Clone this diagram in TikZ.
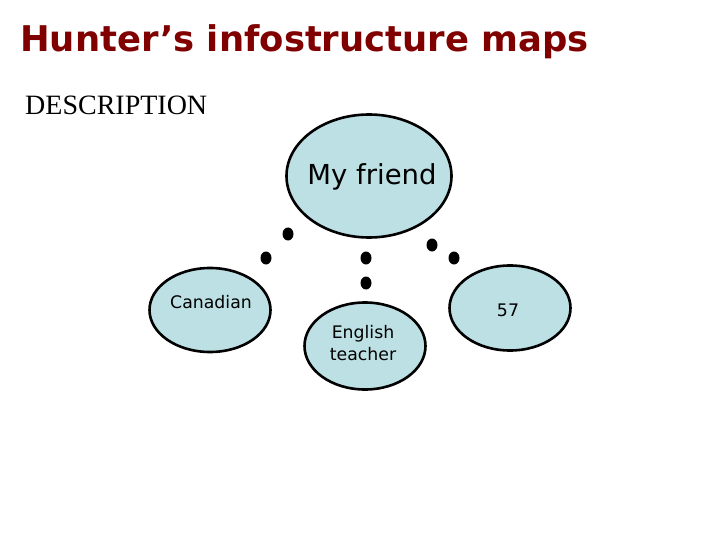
\documentclass[tikz,border=0pt]{standalone}
\usepackage{fontspec}
\setmainfont{Liberation Serif}
\newfontfamily\verd{DejaVu Sans}
\usetikzlibrary{shapes.geometric}
\definecolor{titlered}{RGB}{128,0,0}
\definecolor{bubble}{RGB}{188,224,227}
\tikzset{
  bubblebox/.style={ellipse, draw=black, line width=2.6pt, fill=bubble, inner sep=0pt},
  dotnode/.style={ellipse, fill=black, minimum width=11pt, minimum height=13pt, inner sep=0pt},
  smalltext/.style={font=\verd\fontsize{17.3}{22}\selectfont, align=center},
}
\begin{document}
\begin{tikzpicture}[x=1pt,y=-1pt]
\useasboundingbox[fill=white] (0,0) rectangle (720,540);
\node[anchor=base west, inner sep=0pt, text=titlered, font=\verd\bfseries\fontsize{35.4}{40}\selectfont] (title) at (20,52) {Hunter’s infostructure maps};
\node[anchor=base west, inner sep=0pt, font=\fontsize{28}{32}\selectfont] (desc) at (25,115) {DESCRIPTION};

\node[bubblebox, minimum width=165pt, minimum height=123pt] (friend) at (369,176) {};
\node[font=\verd\fontsize{27.5}{32}\selectfont, inner sep=0pt] (friendtxt) at (372,177) {My friend};

\node[bubblebox, minimum width=121pt, minimum height=84pt] (can) at (210,310) {};
\node[smalltext, anchor=base, inner sep=0pt] (cantxt) at (211,308) {Canadian};

\node[bubblebox, minimum width=121pt, minimum height=87pt] (eng) at (365,346) {};
\node[smalltext, anchor=base, inner sep=0pt] (engtxt1) at (363,338) {English};
\node[smalltext, anchor=base, inner sep=0pt] (engtxt2) at (363,360) {teacher};

\node[bubblebox, minimum width=121pt, minimum height=85pt] (age) at (510,308) {};
\node[smalltext, anchor=base, inner sep=0pt] (agetxt) at (508,316) {57};

\node[dotnode] (l1) at (288,234) {};
\node[dotnode] (l2) at (266,258) {};
\node[dotnode] (m1) at (366,258) {};
\node[dotnode] (m2) at (366,283) {};
\node[dotnode] (r1) at (432,245) {};
\node[dotnode] (r2) at (454,258) {};
\end{tikzpicture}
\end{document}
